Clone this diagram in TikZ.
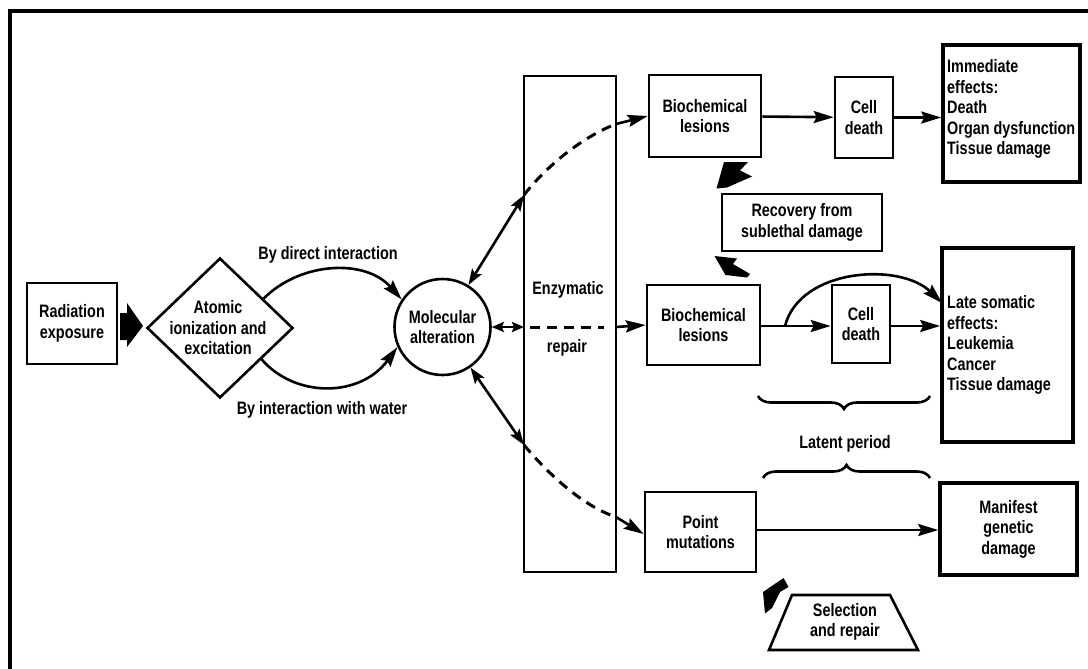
\documentclass[tikz,border=0pt]{standalone}
\usepackage{fontspec}
\setmainfont{Liberation Sans}[FakeStretch=0.8]
\usetikzlibrary{arrows.meta,shapes.geometric,decorations.pathreplacing}
\begin{document}
\begin{tikzpicture}[x=1pt,y=-1pt,
  font=\fontsize{18}{20.5}\selectfont\bfseries,
  box/.style={draw, line width=2.6pt, inner sep=0pt, align=center},
  thickbox/.style={draw, line width=3.6pt, inner sep=0pt},
  txt/.style={align=center, inner sep=0pt},
  arr/.style={line width=2.6pt, -{Stealth[length=20pt,width=12pt,inset=3pt]}},
  darr/.style={line width=2.6pt, {Stealth[length=16pt,width=11pt,inset=3pt]}-{Stealth[length=16pt,width=11pt,inset=3pt]}},
  sdarr/.style={line width=2.6pt, {Stealth[length=12pt,width=10pt,inset=2pt]}-{Stealth[length=12pt,width=10pt,inset=2pt]}},
  dsh/.style={line width=3pt, dash pattern=on 10pt off 7pt},
  brc/.style={line width=2.6pt, decorate, decoration={brace, amplitude=13pt}},
  blk/.style={fill=black}
]
\useasboundingbox (0,0) rectangle (1088,669);
% frame
\draw[line width=4pt, line join=miter] (10,669) -- (10,11) -- (1088,11);

% nodes
\node[box, minimum width=90pt, minimum height=81pt] (rad) at (72,323.5) {Radiation\\exposure};
\node[draw, line width=2.6pt, diamond, minimum width=146pt, minimum height=140pt, inner sep=0pt] (dia) at (220,328) {};
\node[txt] (diat) at (218,328) {Atomic\\ionization and\\excitation};
\node[draw, line width=2.6pt, circle, minimum size=96pt, inner sep=0pt, align=center] (m) at (442.5,327) {Molecular\\alteration};
\node[box, minimum width=92pt, minimum height=496pt] (enz) at (570,324) {};
\node[txt] (enzt) at (568,290) {Enzymatic};
\node[txt] (rept) at (567,348) {repair};

\node[box, minimum width=112pt, minimum height=82pt] (bio1) at (705,116) {Biochemical\\lesions};
\node[box, minimum width=58pt, minimum height=81pt] (cell1) at (864,117.5) {Cell\\death};
\node[thickbox, minimum width=137pt, minimum height=137pt] (imm) at (1011.5,113.5) {};
\node[txt, anchor=west, align=left] (immt) at (947,109) {Immediate\\effects:\\Death\\Organ dysfunction\\Tissue damage};

\node[box, minimum width=160pt, minimum height=57pt] (rec) at (802,222.5) {Recovery from\\sublethal damage};

\node[box, minimum width=113pt, minimum height=80pt] (bio2) at (703.5,325) {Biochemical\\lesions};
\node[box, minimum width=58pt, minimum height=78pt] (cell2) at (861,324) {Cell\\death};
\node[thickbox, minimum width=131pt, minimum height=194pt] (late) at (1007.5,345) {};
\node[txt, anchor=west, align=left] (latet) at (947,345) {Late somatic\\effects:\\Leukemia\\Cancer\\Tissue damage};

\node[box, minimum width=111pt, minimum height=80pt] (pm) at (700.5,532) {Point\\mutations};
\node[thickbox, minimum width=137pt, minimum height=92pt, align=center] (man) at (1008.5,529) {Manifest\\genetic\\damage};

\draw[line width=2.6pt, line join=miter] (792,595) -- (890,595) -- (918,650) -- (769,650) -- cycle;
\node[txt] (sel) at (845,622) {Selection\\and repair};

% labels
\node[txt] (l1) at (328,255) {By direct interaction};
\node[txt] (l2) at (322,410) {By interaction with water};
\node[txt] (l3) at (845,444) {Latent period};

% black block arrows
\fill[blk] (120,313) -- (127,313) -- (127,303) -- (143,326) -- (127,347) -- (127,340) -- (120,340) -- cycle;
\fill[blk] (724,162) -- (748,162) -- (740,170.5) -- (752,176.5) -- (727,187.5) -- (716.5,188.5) -- cycle;
\fill[blk] (714.5,256) -- (737,258.5) -- (733,264) -- (750,274) -- (747,277.5) -- (725.5,275) -- cycle;
\fill[blk] (763,592) -- (783.5,578) -- (788.5,587) -- (780,592) -- (772,608) -- (765,613.5) -- cycle;

% diamond -> circle
\draw[arr] (dia.34) .. controls (300,262) and (365,258) .. (m.146);
\draw[arr] (dia.-37) .. controls (295,398) and (360,398) .. (m.204);

% circle <-> enzymatic repair and beyond
\coordinate (eu) at (524,195);
\coordinate (eur) at (616,124);
\coordinate (em) at (524,327);
\coordinate (emr) at (616,327);
\coordinate (el) at (524,445);
\coordinate (elr) at (616,517);

\draw[darr] (m) -- (eu);
\draw[sdarr] (m) -- (em);
\draw[darr] (m) -- (el);
\draw[dsh] (eu) .. controls (545,168) and (580,138) .. (eur);
\draw[dsh] ([xshift=6pt]em) -- ([xshift=-12pt]emr);
\draw[dsh] (el) .. controls (545,470) and (580,505) .. (elr);
\draw[arr] (eur) -- (bio1.west);
\draw[arr] (emr) -- (bio2.west);
\draw[arr] (elr) -- ([yshift=-2pt]pm.west);

% top row
\draw[arr] (bio1) -- (cell1);
\draw[arr] (cell1) -- (cell1 -| imm.west);

% middle row
\coordinate (br) at (785,326);
\draw[arr] (bio2.east |- br) -- (cell2.west |- br);
\draw[arr] (cell2.east |- br) -- (late.west |- br);
\draw[arr] (br) .. controls (800,268) and (900,262) .. (942,303);

% bottom row
\draw[arr] (pm.east |- 0,530) -- (man.west |- 0,530);

% braces
\draw[brc] (930,396) -- (758,396);
\draw[brc] (763,478) -- (930,478);
\end{tikzpicture}
\end{document}
